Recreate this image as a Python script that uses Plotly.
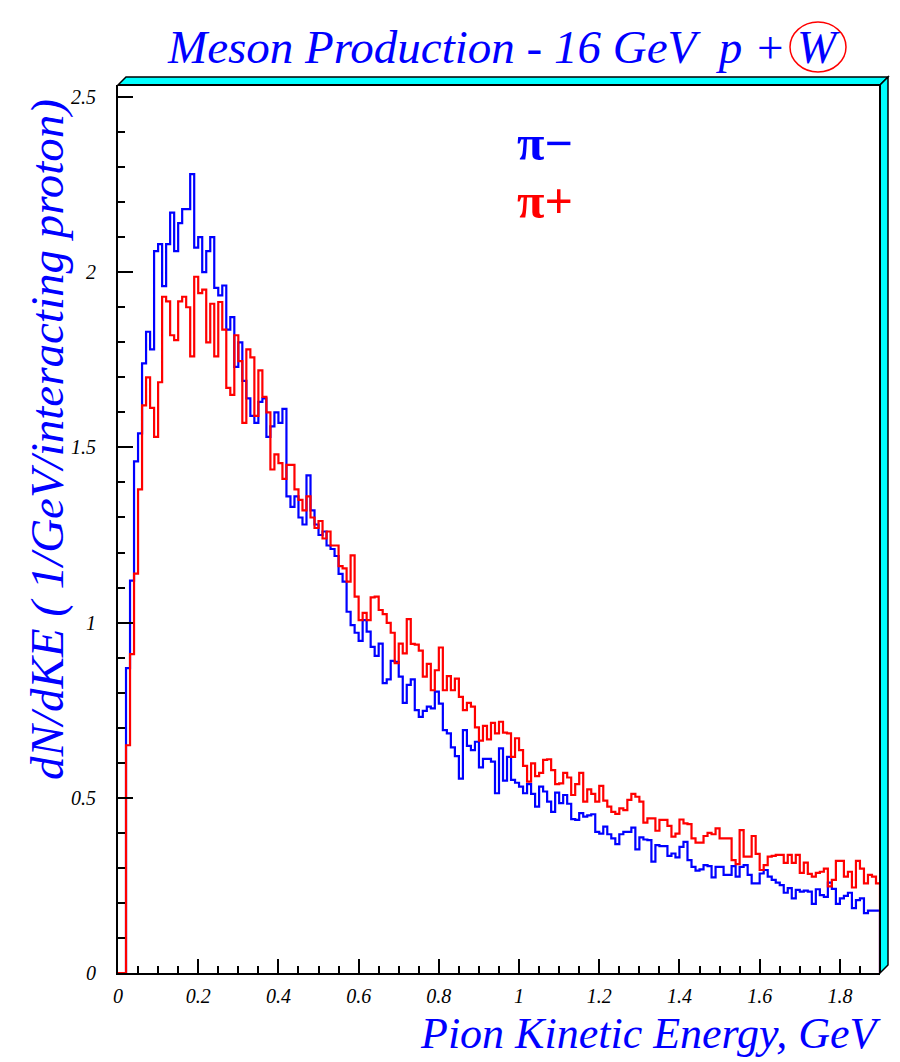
import numpy as np
import plotly.graph_objects as go

# ---- data: 190 bins of 0.01 GeV from 0 to 1.9 ----
bin_width = 0.01
x_min, x_max = 0.0, 1.9

pi_minus = [
    0, 0, 0.87, 1.12, 1.46, 1.54, 1.74, 1.83, 1.78, 2.06,
    2.08, 1.96, 2.08, 2.17, 2.06, 2.14, 2.18, 2.18, 2.28, 2.07,
    2.10, 2.00, 2.06, 2.10, 1.955, 1.934, 1.962, 1.836, 1.872, 1.73,
    1.80, 1.69, 1.64, 1.59, 1.57, 1.63, 1.64, 1.53, 1.56, 1.60,
    1.57, 1.61, 1.36, 1.33, 1.36, 1.30, 1.28, 1.42, 1.32, 1.28,
    1.25, 1.26, 1.22, 1.21, 1.19, 1.139, 1.117, 1.031, 0.993, 0.971,
    0.948, 1.007, 0.974, 0.931, 0.905, 0.94, 0.827, 0.838, 0.891, 0.888,
    0.846, 0.771, 0.822, 0.838, 0.75, 0.731, 0.748, 0.76, 0.755, 0.803,
    0.769, 0.693, 0.684, 0.644, 0.619, 0.555, 0.693, 0.648, 0.636, 0.66,
    0.587, 0.611, 0.611, 0.603, 0.513, 0.641, 0.549, 0.617, 0.551, 0.543,
    0.532, 0.513, 0.539, 0.511, 0.475, 0.532, 0.518, 0.489, 0.46, 0.515,
    0.485, 0.508, 0.483, 0.439, 0.437, 0.456, 0.446, 0.45, 0.453, 0.403,
    0.398, 0.418, 0.396, 0.384, 0.368, 0.396, 0.403, 0.403, 0.415, 0.353,
    0.387, 0.381, 0.379, 0.318, 0.365, 0.362, 0.362, 0.334, 0.341, 0.33,
    0.36, 0.374, 0.322, 0.303, 0.292, 0.296, 0.308, 0.305, 0.273, 0.303,
    0.303, 0.28, 0.28, 0.305, 0.275, 0.303, 0.308, 0.28, 0.256, 0.256,
    0.284, 0.294, 0.275, 0.266, 0.258, 0.251, 0.229, 0.242, 0.213, 0.237,
    0.232, 0.235, 0.232, 0.197, 0.239, 0.222, 0.217, 0.258, 0.24, 0.197,
    0.213, 0.22, 0.229, 0.185, 0.208, 0.213, 0.171, 0.178, 0.178, 0.178,
]

pi_plus = [
    0, 0, 0.65, 0.91, 1.14, 1.38, 1.62, 1.70, 1.613, 1.53,
    1.686, 1.93, 1.917, 1.82, 1.806, 1.917, 1.93, 1.90, 1.76, 1.987,
    1.94, 1.95, 1.80, 1.91, 1.76, 1.915, 1.836, 1.67, 1.65, 1.82,
    1.746, 1.57, 1.78, 1.757, 1.59, 1.72, 1.644, 1.60, 1.437, 1.48,
    1.455, 1.41, 1.45, 1.45, 1.38, 1.35, 1.32, 1.36, 1.30, 1.27,
    1.29, 1.24, 1.26, 1.22, 1.22, 1.161, 1.155, 1.117, 1.192, 1.074,
    1.007, 1.028, 1.007, 1.072, 1.074, 1.036, 1.024, 0.999, 0.971, 0.884,
    0.94, 0.912, 1.01, 0.939, 0.937, 0.92, 0.846, 0.882, 0.807, 0.864,
    0.929, 0.807, 0.847, 0.807, 0.84, 0.788, 0.75, 0.771, 0.76, 0.701,
    0.663, 0.705, 0.667, 0.714, 0.684, 0.717, 0.686, 0.684, 0.617, 0.67,
    0.636, 0.591, 0.546, 0.598, 0.562, 0.571, 0.608, 0.61, 0.579, 0.539,
    0.541, 0.571, 0.558, 0.508, 0.539, 0.571, 0.489, 0.524, 0.511, 0.489,
    0.534, 0.492, 0.475, 0.46, 0.454, 0.47, 0.465, 0.494, 0.511, 0.503,
    0.489, 0.429, 0.441, 0.441, 0.406, 0.437, 0.437, 0.42, 0.389, 0.398,
    0.438, 0.427, 0.425, 0.384, 0.372, 0.372, 0.391, 0.40, 0.396, 0.413,
    0.384, 0.384, 0.384, 0.322, 0.311, 0.408, 0.332, 0.332, 0.391, 0.34,
    0.294, 0.308, 0.332, 0.334, 0.337, 0.337, 0.314, 0.337, 0.314, 0.337,
    0.286, 0.315, 0.283, 0.275, 0.286, 0.289, 0.298, 0.247, 0.266, 0.32,
    0.32, 0.275, 0.289, 0.244, 0.32, 0.298, 0.256, 0.28, 0.275, 0.256,
]

x_ticks = [0, 0.2, 0.4, 0.6, 0.8, 1, 1.2, 1.4, 1.6, 1.8]
x_tick_labels = ["0", "0.2", "0.4", "0.6", "0.8", "1", "1.2", "1.4", "1.6", "1.8"]
y_ticks = [0, 0.5, 1, 1.5, 2, 2.5]
y_tick_labels = ["0", "0.5", "1", "1.5", "2", "2.5"]

n_bins = len(pi_minus)
edges = [round(x_min + i * bin_width, 4) for i in range(n_bins + 1)]

FONT = "Liberation Serif, Times New Roman, serif"
W, H = 900, 1062
L, R, T, B = 118, 20, 85, 89          # plot frame in px
PW, PH = W - L - R, H - T - B
y_top = 2.5 * PH / 876.0               # frame top slightly above 2.5


def px(xp):
    return (xp - L) / PW


def py(yp):
    return (H - B - yp) / PH


fig = go.Figure()
for vals, col, name in [(pi_minus, "#0000FF", "π−"), (pi_plus, "#FF0000", "π+")]:
    fig.add_trace(go.Scatter(
        x=edges, y=list(vals) + [0], mode="lines", line_shape="hv",
        line=dict(color=col, width=2.2), name=name, showlegend=False,
        hoverinfo="skip"))

fig.update_layout(
    width=W, height=H, margin=dict(l=L, r=R, t=T, b=B),
    paper_bgcolor="white", plot_bgcolor="white",
    showlegend=False,
)
fig.update_xaxes(
    range=[x_min, x_max], tickvals=x_ticks, ticktext=x_tick_labels,
    ticks="inside", ticklen=14, tickwidth=2, tickcolor="black",
    minor=dict(ticks="inside", ticklen=7, tickwidth=2, tickcolor="black", dtick=0.05),
    showline=True, linecolor="black", linewidth=2, showgrid=False, zeroline=False,
    tickfont=dict(family=FONT, size=20, color="black", style="italic"),
    ticklabelstandoff=4,
)
fig.update_yaxes(
    range=[0, y_top], tickvals=y_ticks, ticktext=y_tick_labels,
    ticks="inside", ticklen=15, tickwidth=2, tickcolor="black",
    minor=dict(ticks="inside", ticklen=7, tickwidth=2, tickcolor="black", dtick=0.1),
    showline=True, linecolor="black", linewidth=2, showgrid=False, zeroline=False,
    tickfont=dict(family=FONT, size=20, color="black", style="italic"),
    ticklabelstandoff=16,
)

# 3-D cyan frame (top and right bevel)
d = 8
top_path = (f"M {px(L)} {py(T)} L {px(L + d)} {py(T - d)} "
            f"L {px(L + PW + d)} {py(T - d)} L {px(L + PW)} {py(T)} Z")
right_path = (f"M {px(L + PW)} {py(T)} L {px(L + PW + d)} {py(T - d)} "
              f"L {px(L + PW + d)} {py(H - B - d)} L {px(L + PW)} {py(H - B)} Z")
shapes = [
    dict(type="path", path=top_path, xref="paper", yref="paper",
         fillcolor="#00FFFF", line=dict(color="black", width=1.5)),
    dict(type="path", path=right_path, xref="paper", yref="paper",
         fillcolor="#00FFFF", line=dict(color="black", width=1.5)),
    dict(type="line", xref="paper", yref="paper", x0=0, x1=1, y0=1, y1=1,
         line=dict(color="black", width=2)),
    dict(type="line", xref="paper", yref="paper", x0=1, x1=1, y0=0, y1=1,
         line=dict(color="black", width=2)),
    dict(type="circle", xref="paper", yref="paper",
         x0=px(790), x1=px(846), y0=py(72), y1=py(22),
         line=dict(color="#FF0000", width=1.5)),
]
fig.update_layout(shapes=shapes)

annotations = [
    dict(text="Meson Production - 16 GeV  p +", x=px(165), y=py(47),
         xref="paper", yref="paper", xanchor="left", yanchor="middle",
         showarrow=False,
         font=dict(family=FONT, size=47, color="#0000FF", style="italic")),
    dict(text="W", x=px(818), y=py(47),
         xref="paper", yref="paper", xanchor="center", yanchor="middle",
         showarrow=False,
         font=dict(family=FONT, size=47, color="#0000FF", style="italic")),
    dict(text="dN/dKE ( 1/GeV/interacting proton)", x=px(47), y=py(440),
         xref="paper", yref="paper", xanchor="center", yanchor="middle",
         textangle=-90, showarrow=False,
         font=dict(family=FONT, size=47, color="#0000FF", style="italic")),
    dict(text="Pion Kinetic Energy, GeV", x=px(883), y=py(1033),
         xref="paper", yref="paper", xanchor="right", yanchor="middle",
         showarrow=False,
         font=dict(family=FONT, size=44, color="#0000FF", style="italic")),
    dict(text="<b>π−</b>", x=px(515), y=py(143), xref="paper", yref="paper",
         xanchor="left", yanchor="middle", showarrow=False,
         font=dict(family=FONT, size=50, color="#0000FF")),
    dict(text="<b>π+</b>", x=px(515), y=py(201), xref="paper", yref="paper",
         xanchor="left", yanchor="middle", showarrow=False,
         font=dict(family=FONT, size=50, color="#FF0000")),
]
fig.update_layout(annotations=annotations)

fig.write_html("out.html")
